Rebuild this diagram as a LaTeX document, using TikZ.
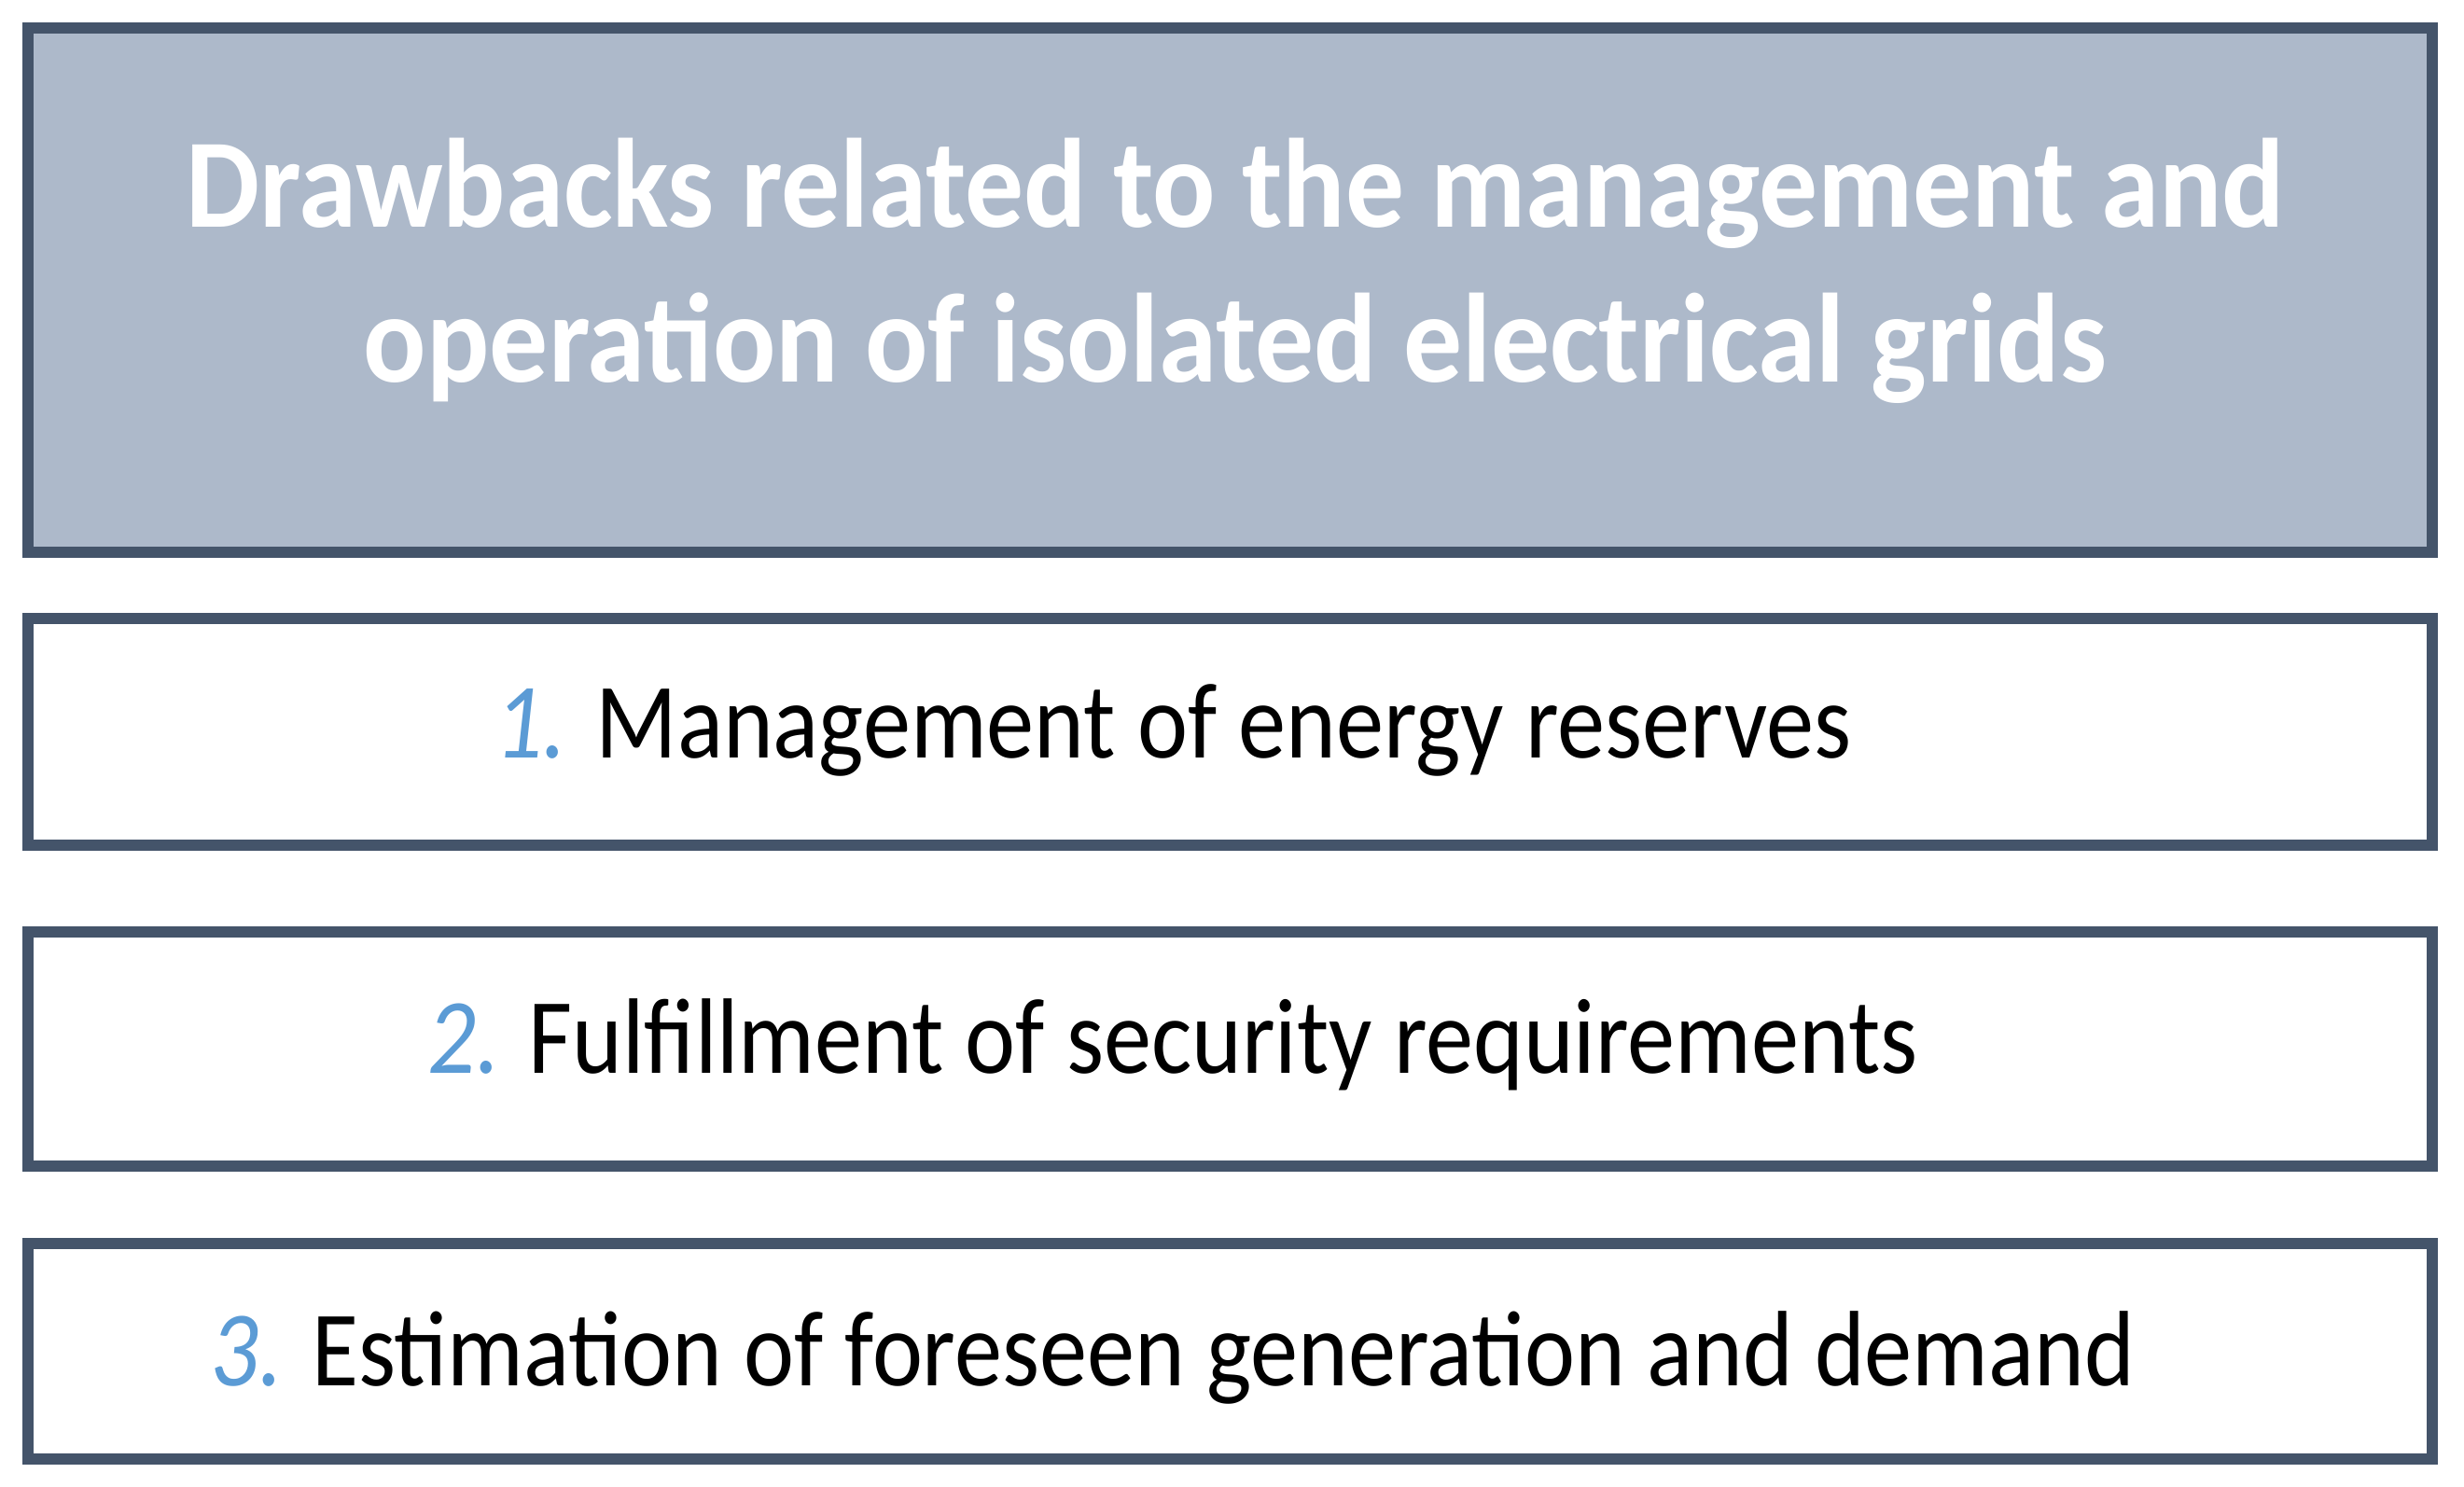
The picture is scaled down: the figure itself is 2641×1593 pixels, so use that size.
\documentclass[tikz,border=0pt]{standalone}
\usepackage{fontspec}
\setmainfont[FakeStretch=0.89]{Carlito}
\newfontfamily\titlefont[FakeStretch=0.923]{Carlito}
\definecolor{edge}{HTML}{44546A}
\definecolor{headfill}{HTML}{ADB9CA}
\definecolor{numblue}{HTML}{5B9BD5}
\tikzset{
  framebox/.style={draw=edge, line width=12pt, rectangle, minimum width=2577pt, inner sep=0pt},
  headbox/.style={framebox, fill=headfill},
  itembox/.style={framebox, fill=white},
  headtext/.style={text=white, font=\titlefont\fontsize{136}{166}\selectfont\bfseries, align=center, inner sep=0pt},
  itemtext/.style={text=black, font=\fontsize{115}{138}\selectfont, anchor=base, inner sep=0pt}
}
\newcommand{\numlabel}[1]{{\color{numblue}\itshape #1}}
\begin{document}
\begin{tikzpicture}[x=1pt,y=-1pt]
\useasboundingbox (0,0) rectangle (2641,1593);
\node[headbox, minimum height=562pt] (head) at (1318.5,311) {};
\node[itembox, minimum height=243pt] (b1) at (1318.5,784.5) {};
\node[itembox, minimum height=251pt] (b2) at (1318.5,1124.5) {};
\node[itembox, minimum height=231pt] (b3) at (1318.5,1448.5) {};
\node[headtext] (htext) at (1324,290) {Drawbacks related to the management and\\operation of isolated electrical grids};
\node[itemtext] (t1) at (1257,812) {\numlabel{1.} Management of energy reserves};
\node[itemtext] (t2) at (1257,1150) {\numlabel{2.} Fulfillment of security requirements};
\node[itemtext] (t3) at (1257,1485) {\numlabel{3.} Estimation of foreseen generation and demand};
\end{tikzpicture}
\end{document}
